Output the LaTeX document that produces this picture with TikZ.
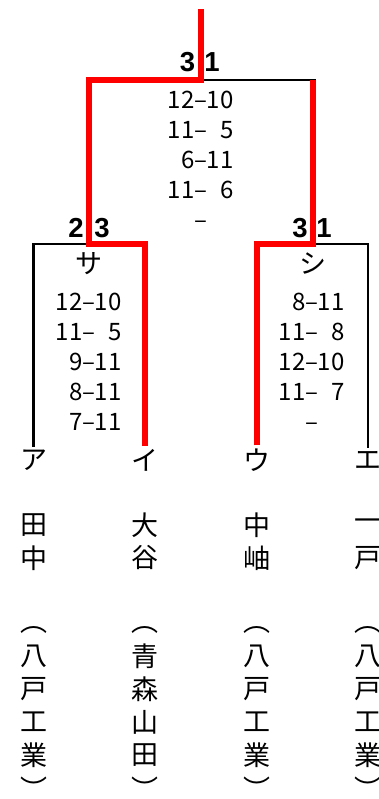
\documentclass[tikz,border=0pt]{standalone}
\usepackage{fontspec}
\setmainfont{Noto Sans CJK JP}
\newfontfamily\setfont{Liberation Sans}
\newcommand{\pts}[2]{\makebox[26pt][r]{#1}\makebox[13pt]{--}\makebox[26pt][r]{#2}}

\begin{document}
\begin{tikzpicture}[x=1pt, y=-1pt,
  every node/.style={inner sep=0pt},
  score/.style={font=\fontsize{24}{24}\selectfont, text height=17.6pt, text depth=0pt},
  sets/.style={font=\setfont\bfseries\fontsize{27.5}{27.5}\selectfont},
  kana/.style={font=\fontsize{27}{27}\selectfont, inner ysep=3pt},
  lose/.style={line width=2.5pt},
  win/.style={line width=6.5pt, red}]
  \useasboundingbox (0,0) rectangle (379,799);

  % match points
  \coordinate (top) at (201,9);
  \coordinate (final) at (201,80);
  \coordinate (semiL) at (89,244);
  \coordinate (semiR) at (313,244);

  % players
  \node[kana] (pA) at (33.5,460) {ア};
  \node[kana] (pI) at (145,460) {イ};
  \node[kana] (pU) at (257,460) {ウ};
  \node[kana] (pE) at (368,460) {エ};

  % names and schools, written top to bottom
  \foreach \c/\x/\nm/\sch in {A/33.5/{田,中}/{八,戸,工,業},
                               I/145/{大,谷}/{青,森,山,田},
                               U/257/{中,岫}/{八,戸,工,業},
                               E/368/{一,戸}/{八,戸,工,業}}{
    \foreach \ch [count=\j] in \nm
      \node[kana] (name\c-\j) at (\x,492+33*\j) {\ch};
    \node[kana] (open\c) at (\x,630) {︵};
    \foreach \ch [count=\j] in \sch
      \node[kana] (school\c-\j) at (\x,623+33*\j) {\ch};
    \node[kana] (close\c) at (\x,788) {︶};
  }

  % bracket
  \draw[lose] (semiL) -| (pA.north);
  \draw[lose] (semiR) -| (pE.north);
  \draw[lose] (final) -- ([xshift=3pt]semiR |- final);
  \draw[win] (pI.north) |- (semiL) |- (final) -- (top);
  \draw[win] (pU.north) |- (semiR) -- (semiR |- final);

  % semi final labels
  \node[kana] (semiLabelL) at (89,264) {サ};
  \node[kana] (semiLabelR) at (313,264) {シ};

  % games won
  \node[sets] (setsF-w) at (187.5,62) {3};
  \node[sets] (setsF-l) at (212,62) {1};
  \node[sets] (setsL-l) at (76,228) {2};
  \node[sets] (setsL-w) at (102,228) {3};
  \node[sets] (setsR-w) at (300,228) {3};
  \node[sets] (setsR-l) at (324,228) {1};

  % game scores
  \foreach \l/\r [count=\i] in {12/10,11/5,6/11,11/6,~/~}
    \node[score] (scoreF-\i) at (201,70+30*\i) {\pts{\l}{\r}};
  \foreach \l/\r [count=\i] in {12/10,11/5,9/11,8/11,7/11}
    \node[score] (scoreL-\i) at (89,272+30*\i) {\pts{\l}{\r}};
  \foreach \l/\r [count=\i] in {8/11,11/8,12/10,11/7,~/~}
    \node[score] (scoreR-\i) at (312,272+30*\i) {\pts{\l}{\r}};
\end{tikzpicture}
\end{document}
